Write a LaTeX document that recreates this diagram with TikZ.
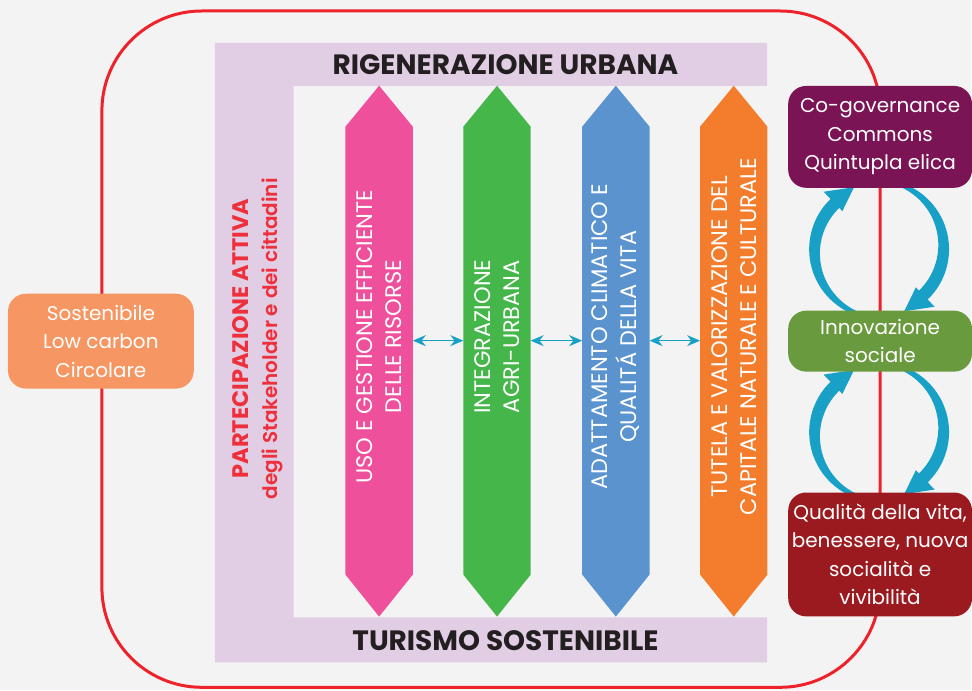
\documentclass[tikz,border=0pt]{standalone}
\usepackage{fontspec}
\setmainfont{Poppins}
\newfontfamily\popsemi{Poppins SemiBold}
\usetikzlibrary{arrows.meta,calc}
\definecolor{cbg}{RGB}{243,243,243}
\definecolor{cred}{RGB}{237,34,43}
\definecolor{credtxt}{RGB}{237,48,59}
\definecolor{cdark}{RGB}{35,31,32}
\definecolor{clav}{RGB}{225,205,228}
\definecolor{cpink}{RGB}{238,80,156}
\definecolor{cgreen}{RGB}{69,182,74}
\definecolor{cblue}{RGB}{91,147,206}
\definecolor{corange}{RGB}{244,125,45}
\definecolor{cteal}{RGB}{25,160,198}
\definecolor{cplum}{RGB}{122,20,85}
\definecolor{cleaf}{RGB}{106,154,62}
\definecolor{cwine}{RGB}{155,26,32}
\definecolor{capricot}{RGB}{246,150,98}

\begin{document}
\begin{tikzpicture}[x=1pt,y=1pt,
  colbody/.style={minimum width=67pt,minimum height=448pt,inner sep=0pt},
  coltext/.style={rotate=90,text=white,align=center,inner sep=0pt,font=\fontsize{22.5}{29}\selectfont},
  title/.style={anchor=base,text=cdark,inner sep=0pt,font=\fontsize{28}{32}\selectfont\bfseries},
  box/.style={rounded corners=18pt,text=white,align=center,inner sep=0pt,font=\fontsize{20}{28.5}\selectfont},
  dblarr/.style={draw=cteal,line width=1.5pt,{Stealth[length=13pt,width=11pt]}-{Stealth[length=13pt,width=11pt]}},
  ciclo/.pic={
    \fill[cteal] (275:70) arc[start angle=275,end angle=134,radius=70] -- (134:80) -- (112:67) -- (134:53)
      -- ($(-45:6)+(134:63.5)$) arc[start angle=134,end angle=275,radius=63.5] -- cycle;
    \fill[cteal,rotate=180] (275:70) arc[start angle=275,end angle=134,radius=70] -- (134:80) -- (112:67) -- (134:53)
      -- ($(-45:6)+(134:63.5)$) arc[start angle=134,end angle=275,radius=63.5] -- cycle;
  }]
\fill[cbg] (0,0) rectangle (972,-691);
\draw[cred,line width=3pt,rounded corners=100pt] (102,-11) rectangle (881,-688);

% cornice
\fill[clav] (215,-43) -- (768,-43) -- (768,-86) -- (294,-86) -- (294,-618) -- (768,-618) -- (768,-663) -- (215,-663) -- cycle;
\node[title] (rig) at (506,-75) {RIGENERAZIONE URBANA};
\node[title] (tur) at (506,-651) {TURISMO SOSTENIBILE};
\node[rotate=90,align=center,text=credtxt,inner sep=0pt,font=\fontsize{22}{30}\selectfont] (part) at (258,-339)
  {{\fontsize{22.5}{30}\selectfont\bfseries PARTECIPAZIONE ATTIVA}\\{\fontsize{20}{30}\selectfont\popsemi degli Stakeholder e dei cittadini}};

% colonne
\node[colbody] (uso) at (379.5,-351) {};
\fill[cpink] (uso.north west) -- ([yshift=41pt]uso.north) -- (uso.north east) -- (uso.south east) -- ([yshift=-42pt]uso.south) -- (uso.south west) -- cycle;
\node[coltext] (usotxt) at (379.5,-337) {USO E GESTIONE EFFICIENTE\\DELLE RISORSE};
\node[colbody] (agri) at (497.5,-351) {};
\fill[cgreen] (agri.north west) -- ([yshift=41pt]agri.north) -- (agri.north east) -- (agri.south east) -- ([yshift=-42pt]agri.south) -- (agri.south west) -- cycle;
\node[coltext] (agritxt) at (497.5,-337) {INTEGRAZIONE\\AGRI-URBANA};
\node[colbody] (clima) at (616.5,-351) {};
\fill[cblue] (clima.north west) -- ([yshift=41pt]clima.north) -- (clima.north east) -- (clima.south east) -- ([yshift=-42pt]clima.south) -- (clima.south west) -- cycle;
\node[coltext] (climatxt) at (616.5,-337) {ADATTAMENTO CLIMATICO E\\QUALITÁ DELLA VITA};
\node[colbody] (tutela) at (734.5,-351) {};
\fill[corange] (tutela.north west) -- ([yshift=41pt]tutela.north) -- (tutela.north east) -- (tutela.south east) -- ([yshift=-42pt]tutela.south) -- (tutela.south west) -- cycle;
\node[coltext] (tutelatxt) at (734.5,-337) {TUTELA E VALORIZZAZIONE DEL\\CAPITALE NATURALE E CULTURALE};

\draw[dblarr] ([yshift=10pt]uso.east) -- ([yshift=10pt]agri.west);
\draw[dblarr] ([yshift=10pt]agri.east) -- ([yshift=10pt]clima.west);
\draw[dblarr] ([yshift=10pt]clima.east) -- ([yshift=10pt]tutela.west);

% box laterali
\node[box,fill=capricot,minimum width=186pt,minimum height=95pt] (sost) at (101,-341.5) {Sostenibile\\Low carbon\\Circolare};
\pic at (880,-249.5) {ciclo};
\pic at (880,-432.5) {ciclo};
\node[box,fill=cplum,minimum width=184pt,minimum height=102pt] (cogov) at (881,-137) {Co-governance\\Commons\\Quintupla elica};
\node[box,fill=cleaf,minimum width=184pt,minimum height=61pt] (innov) at (881,-341.5) {Innovazione\\sociale};
\node[box,fill=cwine,minimum width=184pt,minimum height=124pt] (qual) at (881,-555) {Qualità della vita,\\benessere, nuova\\socialità e\\vivibilità};
\end{tikzpicture}
\end{document}
